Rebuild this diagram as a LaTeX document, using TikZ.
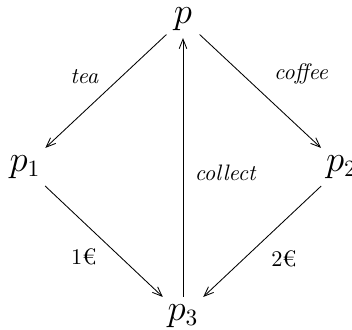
\documentclass[tikz,border=0pt]{standalone}
\usepackage{amsmath,amssymb}
\usepackage{tikz}
\usetikzlibrary{positioning,arrows.meta}

\begin{document}
\begin{tikzpicture}[x=0.469pt,y=-0.469pt,node distance=70pt,on grid]
  \tikzstyle{proc}=[font=\fontsize{16}{19}\selectfont]
  \tikzstyle{act}=[font=\fontsize{10.5}{12}\selectfont\itshape]
  \tikzstyle{move}=[-{Straight Barb[length=4.5pt,width=3.6pt]},thin]
  \useasboundingbox (0,0) rectangle (352,330);
  \node[proc] (p) at (183,19) {$p$};
  \node[proc,below left=69.4pt and 74.1pt of p] (p1) {$p_1$};
  \node[proc,below right=69.4pt and 74.3pt of p] (p2) {$p_2$};
  \node[proc,below=139.3pt of p] (p3) {$p_3$};
  \draw[move] (p) -- (p1) node[act,midway,above left] {tea};
  \draw[move] (p) -- (p2) node[act,midway,above right,xshift=3pt] {coffee};
  \draw[move] (p1) -- (p3) node[font=\fontsize{10.5}{12}\selectfont,midway,below left] {1\texteuro};
  \draw[move] (p2) -- (p3) node[font=\fontsize{10.5}{12}\selectfont,midway,below right=1pt] {2\texteuro};
  \draw[move] (p3) -- (p) node[act,pos=0.48,right=2pt] {collect};
\end{tikzpicture}
\end{document}
